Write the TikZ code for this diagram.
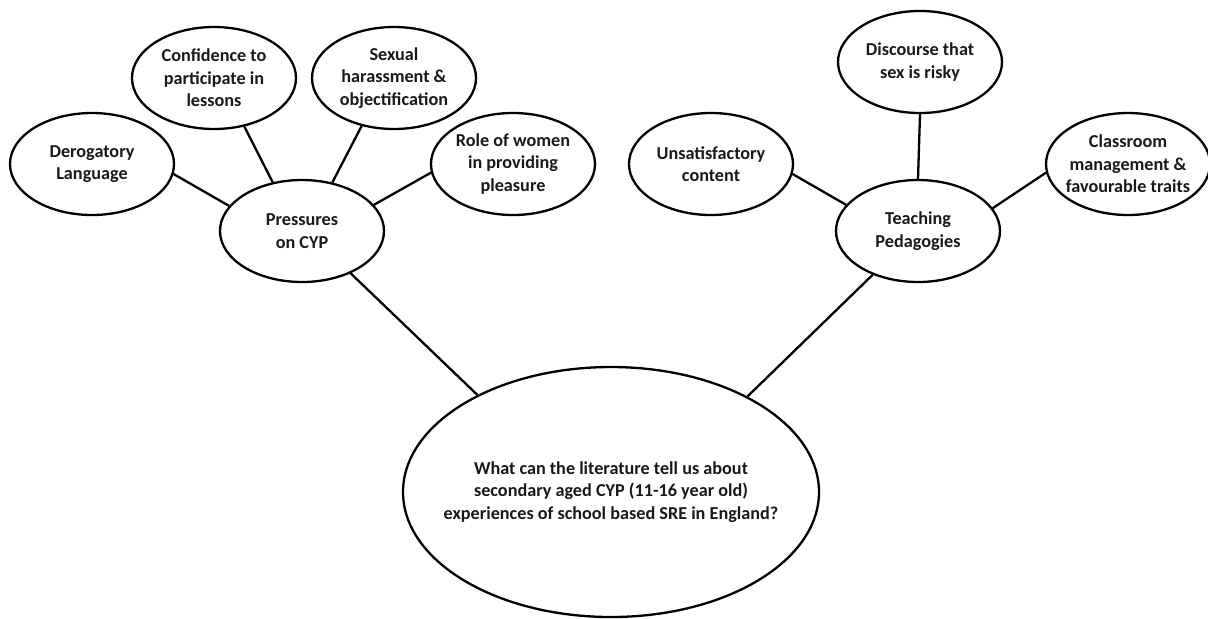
\documentclass[tikz,border=0pt]{standalone}
\usepackage{fontspec}
\setmainfont{Carlito}
\usetikzlibrary{shapes.geometric}
\begin{document}
\begin{tikzpicture}[x=0.5pt,y=-0.5pt,
  lbl/.style={align=center,inner sep=0pt,text=black!90,
    font=\bfseries\fontsize{9.1}{11.3}\selectfont},
  theme/.style={ellipse,draw,line width=1.15pt,minimum width=82pt,minimum height=51pt,
    inner sep=0pt,label={[lbl]center:#1}},
  link/.style={line width=1.15pt}]
\useasboundingbox (0,0) rectangle (1208,618);

% central question
\node[theme={What can the literature tell us about\\secondary aged CYP (11-16 year old)\\experiences of school based SRE in England?},
  minimum width=208pt,minimum height=125pt] (main) at (611,492) {};

% left branch
\node[theme={Pressures\\on CYP}] (press) at (302,231) {};
\node[theme={Derogatory\\Language}] (dero) at (92,164) {};
\node[theme={Confidence to\\participate in\\lessons}] (conf) at (214,78) {};
\node[theme={Sexual\\harassment \&\\objectification}] (harass) at (394,78) {};
\node[theme={Role of women\\in providing\\pleasure}] (women) at (513,164) {};

% right branch
\node[theme={Teaching\\Pedagogies}] (teach) at (918,231) {};
\node[theme={Unsatisfactory\\content}] (unsat) at (711,164) {};
\node[theme={Discourse that\\sex is risky}] (risk) at (920,62) {};
\node[theme={Classroom\\management \&\\favourable traits}] (class) at (1128,164) {};

% connectors
\draw[link] (dero.-7.5) -- (press.161);
\draw[link] (conf.-58) -- (press.121);
\draw[link] (harass.-124) -- (press.58);
\draw[link] (women.186) -- (press.20);
\draw[link] (press.-41) -- (main.144);

\draw[link] (unsat.-7) -- (teach.160);
\draw[link] (risk.south) -- (teach.north);
\draw[link] (class.186) -- (teach.17);
\draw[link] (teach.-136) -- (main.35);
\end{tikzpicture}
\end{document}
